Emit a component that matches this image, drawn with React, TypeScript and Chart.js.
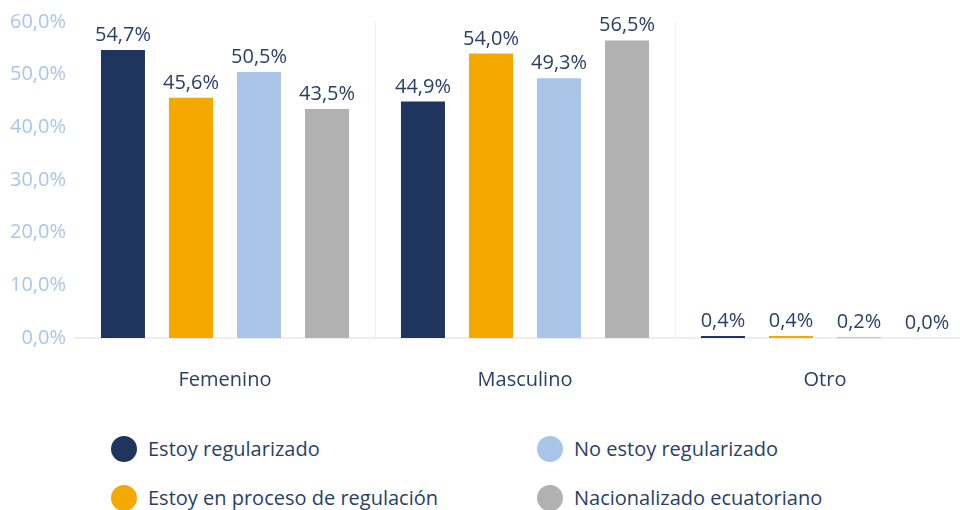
import React, { useEffect, useRef } from 'react';
import { Chart, registerables } from 'chart.js';

Chart.register(...registerables);

const categories = ['Femenino', 'Masculino', 'Otro'];
const seriesNames = [
  'Estoy regularizado',
  'Estoy en proceso de regulación',
  'No estoy regularizado',
  'Nacionalizado ecuatoriano',
];
const estoyRegularizado = [54.7, 44.9, 0.4];
const enProceso = [45.6, 54.0, 0.4];
const noRegularizado = [50.5, 49.3, 0.2];
const nacionalizado = [43.5, 56.5, 0.0];
const yMin = 0;
const yMax = 60;
const yStep = 10;

const seriesValues = [estoyRegularizado, enProceso, noRegularizado, nacionalizado];
const colors = ['#1f355e', '#f5a800', '#a9c6e8', '#b1b1b1'];
const legendOrder = [0, 2, 1, 3];

const FONT = "'Open Sans', sans-serif";
const FS = 20;
const TEXT = '#2a3f66';
const fmt = (v: number) => v.toFixed(1).replace('.', ',') + '%';

const valueLabels = {
  id: 'valueLabels',
  afterDatasetsDraw(chart: any) {
    const ctx = chart.ctx;
    ctx.save();
    ctx.font = `${FS}px ${FONT}`;
    ctx.fillStyle = TEXT;
    ctx.textAlign = 'center';
    ctx.textBaseline = 'alphabetic';
    chart.data.datasets.forEach((ds: any, i: number) => {
      const meta = chart.getDatasetMeta(i);
      meta.data.forEach((el: any, j: number) => {
        ctx.fillText(fmt(ds.data[j]), el.x, el.y - 9);
      });
    });
    ctx.restore();
  },
};

export default function App() {
  const ref = useRef<HTMLCanvasElement | null>(null);

  useEffect(() => {
    if (!ref.current) return;
    const chart = new Chart(ref.current, {
      type: 'bar',
      data: {
        labels: categories,
        datasets: seriesNames.map((name, i) => ({
          label: name,
          data: seriesValues[i],
          backgroundColor: colors[i],
          borderWidth: 0,
          categoryPercentage: 0.907,
          barPercentage: 0.647,
        })),
      },
      options: {
        animation: false,
        responsive: false,
        maintainAspectRatio: false,
        layout: { padding: { top: 22, left: 0, right: 0, bottom: 0 } },
        plugins: {
          legend: { display: false },
          tooltip: { enabled: false },
        },
        scales: {
          x: {
            grid: {
              offset: true,
              drawTicks: false,
              color: (c: any) =>
                c.index === 0 || c.index === categories.length ? 'rgba(0,0,0,0)' : '#f0f0f0',
              lineWidth: 1,
            },
            border: { display: true, color: '#eeeeee', width: 2 },
            ticks: {
              padding: 30,
              color: TEXT,
              font: { family: FONT, size: FS },
            },
            afterFit: (s: any) => {
              s.height = 400 - 338;
            },
          },
          y: {
            min: yMin,
            max: yMax,
            grid: { display: false, drawTicks: false },
            border: { display: false },
            ticks: {
              stepSize: yStep,
              padding: 9,
              color: '#a9c6e8',
              font: { family: FONT, size: FS },
              callback: (v: any) => fmt(Number(v)),
            },
            afterFit: (s: any) => {
              s.width = 75;
            },
          },
        },
      },
      plugins: [valueLabels],
    });
    return () => chart.destroy();
  }, []);

  return (
    <div
      style={{
        position: 'fixed',
        left: 0,
        top: 0,
        width: 960,
        height: 510,
        overflow: 'hidden',
        background: '#ffffff',
        fontFamily: FONT,
      }}
    >
      <canvas ref={ref} width={975} height={400} style={{ position: 'absolute', left: 0, top: 0 }} />
      {legendOrder.map((idx, k) => {
        const col = k % 2;
        const row = Math.floor(k / 2);
        const left = col === 0 ? 111 : 537;
        const cy = row === 0 ? 449 : 498;
        return (
          <div
            key={idx}
            style={{
              position: 'absolute',
              left,
              top: cy - 13,
              height: 26,
              display: 'flex',
              alignItems: 'center',
              whiteSpace: 'nowrap',
            }}
          >
            <span
              style={{
                display: 'inline-block',
                width: 26,
                height: 26,
                borderRadius: '50%',
                background: colors[idx],
                marginRight: 11,
              }}
            />
            <span style={{ fontSize: FS, color: TEXT, lineHeight: '26px' }}>{seriesNames[idx]}</span>
          </div>
        );
      })}
    </div>
  );
}
